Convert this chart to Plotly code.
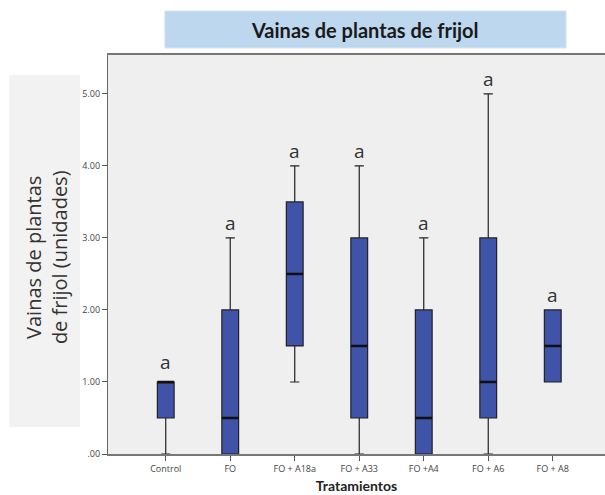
import plotly.graph_objects as go

categories = ["Control", "FO", "FO + A18a", "FO + A33", "FO +A4", "FO + A6", "FO + A8"]
lower = [0.0, 0.0, 1.0, 0.0, 0.0, 0.0, 1.0]
q1 = [0.5, 0.0, 1.5, 0.5, 0.0, 0.5, 1.0]
median = [1.0, 0.5, 2.5, 1.5, 0.5, 1.0, 1.5]
q3 = [1.0, 2.0, 3.5, 3.0, 2.0, 3.0, 2.0]
upper = [1.0, 3.0, 4.0, 4.0, 3.0, 5.0, 2.0]
letters = ["a", "a", "a", "a", "a", "a", "a"]
letter_shift = [20, 15, 15, 15, 15, 15, 15]
yticks = [0, 1, 2, 3, 4, 5]
ytick_labels = [".00", "1.00", "2.00", "3.00", "4.00", "5.00"]

xs = list(range(len(categories)))
box_w = 0.26

W, H = 605, 495
L, R_EDGE, T, B = 108, 606, 55, 454
PW, PH = R_EDGE - L, B - T


def px(x):
    return (x - L) / PW


def py(y):
    return (B - y) / PH


fig = go.Figure()
fig.add_trace(go.Box(
    x=xs, q1=q1, median=median, q3=q3, lowerfence=lower, upperfence=upper,
    width=box_w, whiskerwidth=0.55,
    fillcolor="#3F53A8", line=dict(color="#222222", width=1.2),
    boxpoints=False, hoverinfo="skip", showlegend=False,
))
# thicker median lines
mx, my = [], []
for i, m in zip(xs, median):
    mx += [i - box_w / 2, i + box_w / 2, None]
    my += [m, m, None]
fig.add_trace(go.Scatter(x=mx, y=my, mode="lines", line=dict(color="#111111", width=2.5),
                         showlegend=False, hoverinfo="skip"))

for i, (u, t, s) in enumerate(zip(upper, letters, letter_shift)):
    fig.add_annotation(x=i, y=u, text=t, showarrow=False, yshift=s,
                       xanchor="center", yanchor="middle",
                       font=dict(family="Open Sans", size=19, color="#333333"))

# title box
fig.add_shape(type="rect", xref="paper", yref="paper",
              x0=px(165), x1=px(567), y0=py(48), y1=py(11),
              fillcolor="#BDD7EE", line=dict(color="#D6E5F3", width=1), layer="below")
fig.add_annotation(xref="paper", yref="paper", x=px(366), y=py(30),
                   xanchor="center", yanchor="middle",
                   text="<b>Vainas de plantas de frijol</b>", showarrow=False,
                   font=dict(family="Lato", size=20, color="#1a1a1a"))

# y title box
fig.add_shape(type="rect", xref="paper", yref="paper",
              x0=px(9), x1=px(80), y0=py(427), y1=py(75),
              fillcolor="#F2F2F2", line=dict(width=0), layer="below")
fig.add_annotation(xref="paper", yref="paper", x=px(46), y=py(257),
                   xanchor="center", yanchor="middle",
                   text="Vainas de plantas<br>de frijol (unidades)", showarrow=False,
                   textangle=-90, font=dict(family="Open Sans", size=20, color="#333333"))

fig.update_layout(
    width=W, height=H,
    margin=dict(l=L, r=0, t=T, b=H - B, pad=0),
    paper_bgcolor="white", plot_bgcolor="#EFEFEF",
    font=dict(family="Open Sans", color="#444444"),
    xaxis=dict(range=[-0.895, 6.81], tickvals=xs, ticktext=categories,
               tickfont=dict(size=9, color="#444444"),
               ticks="outside", ticklen=5, tickcolor="#555555",
               showline=True, linecolor="#777777", linewidth=1.5, mirror=True,
               showgrid=False, zeroline=False,
               title=dict(text="<b>Tratamientos</b>", font=dict(family="Lato", size=14, color="#222222"),
                          standoff=8)),
    yaxis=dict(range=[0, 5.54], tickvals=yticks, ticktext=ytick_labels,
               tickfont=dict(size=9, color="#444444"),
               ticks="outside", ticklen=5, tickcolor="#555555",
               showline=True, linecolor="#666666", linewidth=1.2,
               showgrid=False, zeroline=False),
)

fig.write_html("out.html", config={"displayModeBar": False},
               post_script="document.body.style.margin='0';document.body.style.overflow='hidden';"
                           "document.documentElement.style.overflow='hidden';")
